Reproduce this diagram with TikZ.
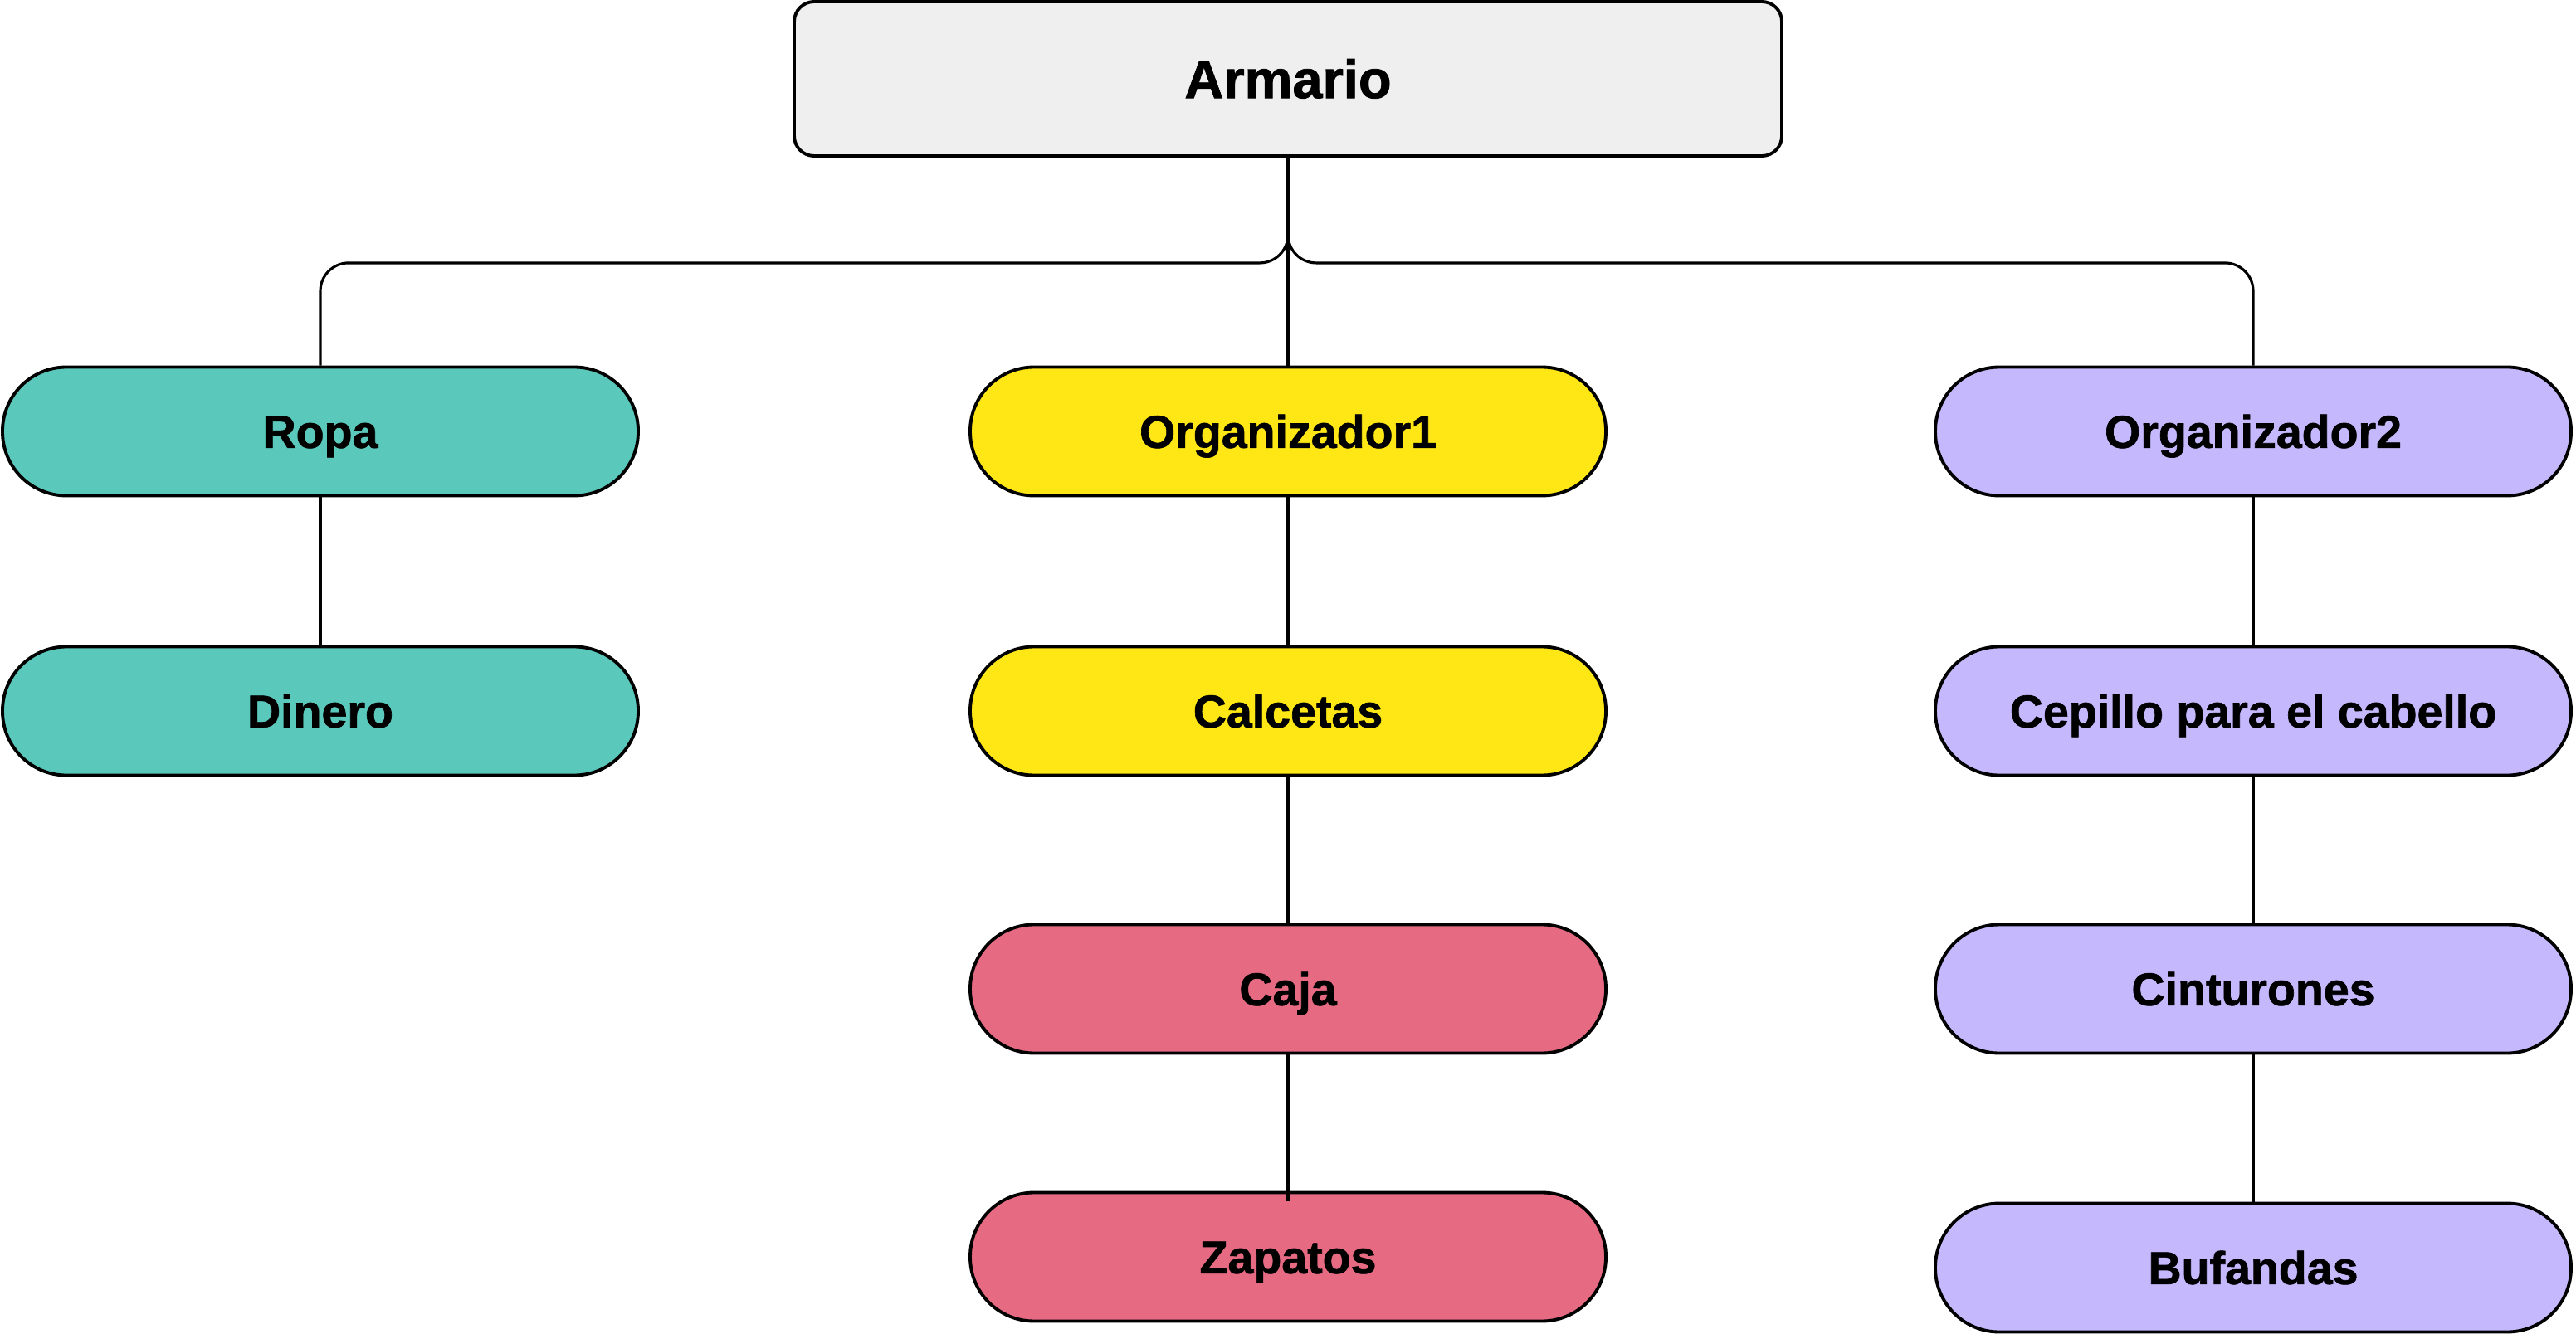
\documentclass[tikz,border=0pt]{standalone}
\usepackage{fontspec}
\setmainfont{Liberation Sans}
\newfontfamily\heavy{Liberation Sans}[UprightFont=*-Bold, FakeBold=1.2]
\usetikzlibrary{calc}
\definecolor{cteal}{HTML}{5BC8BC}
\definecolor{cyellow}{HTML}{FEE714}
\definecolor{cpink}{HTML}{E66A82}
\definecolor{clav}{HTML}{C5B8FC}
\definecolor{cgray}{HTML}{EFEFEF}
\begin{document}
\begin{tikzpicture}[
  pill/.style={draw=black, line width=1.1pt, rounded corners=0.77cm,
    minimum width=7.66cm, minimum height=1.55cm, inner sep=0pt,
    text height=11.3pt, text depth=0pt,
    font=\fontsize{15.8pt}{18pt}\heavy},
  topbox/.style={draw=black, line width=1.1pt, rounded corners=0.24cm, fill=cgray,
    minimum width=11.9cm, minimum height=1.86cm, inner sep=0pt,
    text height=13.2pt, text depth=0pt,
    font=\fontsize{18.5pt}{22pt}\heavy},
  conn/.style={draw=black, line width=0.9pt},
]
\useasboundingbox (0,0) rectangle (31.04,16.07);
\node[topbox] (arm) at (15.52,15.12) {Armario};

\node[pill, fill=cteal] (ropa) at (3.86,10.87) {Ropa};
\node[pill, fill=cteal] (din) at (3.86,7.50) {Dinero};

\node[pill, fill=cyellow] (org1) at (15.52,10.87) {Organizador1};
\node[pill, fill=cyellow] (calc) at (15.52,7.50) {Calcetas};
\node[pill, fill=cpink] (caja) at (15.52,4.15) {Caja};
\node[pill, fill=cpink] (zap) at (15.52,0.92) {Zapatos};

\node[pill, fill=clav] (org2) at (27.15,10.87) {Organizador2};
\node[pill, fill=clav] (cep) at (27.15,7.50) {Cepillo para el cabello};
\node[pill, fill=clav] (cint) at (27.15,4.15) {Cinturones};
\node[pill, fill=clav] (buf) at (27.15,0.79) {Bufandas};

\draw[conn, rounded corners=0.34cm] (arm.south) -- ++(0,-1.27) -| (ropa.north);
\draw[conn, rounded corners=0.34cm] (arm.south) -- ++(0,-1.27) -| (org2.north);
\draw[conn] (arm.south) -- (org1.north);

\draw[conn] (ropa.south) -- (din.north);
\draw[conn] (org1.south) -- (calc.north);
\draw[conn] (calc.south) -- (caja.north);
\draw[conn] (caja.south) -- ($(zap.north)+(0,-0.12)$);
\draw[conn] (org2.south) -- (cep.north);
\draw[conn] (cep.south) -- (cint.north);
\draw[conn] (cint.south) -- (buf.north);
\end{tikzpicture}
\end{document}
